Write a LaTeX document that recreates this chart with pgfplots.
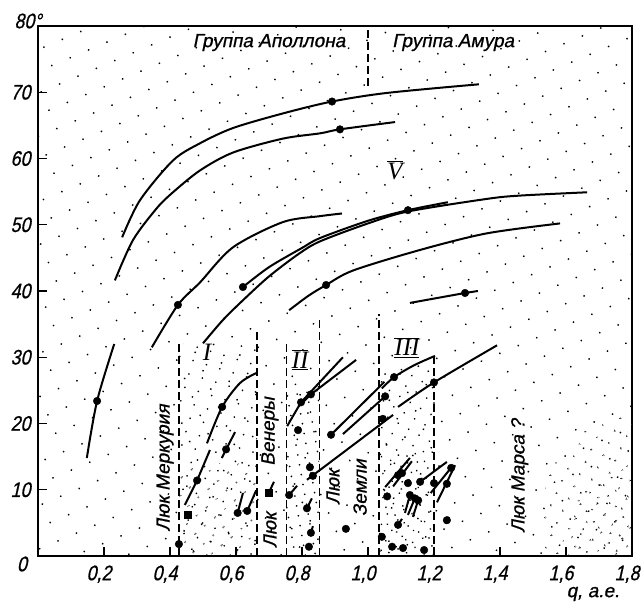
\documentclass[border=0pt]{standalone}
\usepackage{fontspec}
\setmainfont{Liberation Sans}[FakeSlant=0.2, FakeBold=0.8]
\newfontfamily\tickf{Liberation Sans}[FakeSlant=0.22, FakeStretch=0.85, FakeBold=0.8]
\newfontfamily\rmn{Liberation Serif}
\usepackage{pgfplots}
\pgfplotsset{compat=1.18}
\usetikzlibrary{patterns.meta}
\newcommand\bigf{\fontsize{19}{19}\selectfont}
\newcommand\tickfs{\tickf\fontsize{21}{21}\selectfont}
\newcommand\romf{\rmn\itshape\fontsize{25}{25}\selectfont}
\begin{document}
\begin{tikzpicture}
\begin{axis}[
  scale only axis, width=594pt, height=530pt,
  xmin=0, xmax=1.8, ymin=0, ymax=80,
  axis line style={line width=1.4pt},
  xtick={0.2,0.4,0.6,0.8,1.0,1.2,1.4,1.6,1.8},
  xticklabels={{0,2},{0,4},{0,6},{0,8},{1,0},{1,2},{1,4},{1,6},{1,8}},
  ytick={10,20,30,40,50,60,70},
  yticklabels={10,20,30,40,50,60,70},
  tick align=inside, xtick pos=left, ytick pos=left,
  major tick length=9pt, tick style={line width=1.2pt, black},
  ticklabel style={font=\tickfs},
  xticklabel style={yshift=-6pt, xshift=-5pt},
  yticklabel style={xshift=-4pt},
  clip=false,
  nodes={font=\bigf},
]
% stippling
\addplot[draw=none, pattern={Dots[distance=20pt, radius=1pt, angle=23]}] coordinates {(0,0)(0,80)(1.8,80)(1.8,0)} \closedcycle;
\addplot[draw=none, pattern={Dots[distance=14pt, radius=0.95pt, angle=-17]}] coordinates {(0.427,0)(0.427,32)(0.664,32)(0.664,0)} \closedcycle;
\addplot[draw=none, pattern={Dots[distance=13pt, radius=0.95pt, angle=40, xshift=4pt]}] coordinates {(0.427,0)(0.427,14)(0.664,14)(0.664,0)} \closedcycle;
\addplot[draw=none, pattern={Dots[distance=10pt, radius=0.95pt, angle=10]}] coordinates {(0.752,0)(0.752,26)(0.852,26)(0.852,0)} \closedcycle;
\addplot[draw=none, pattern={Dots[distance=12pt, radius=0.95pt, angle=-30]}] coordinates {(1.033,0)(1.033,28)(1.2,29)(1.2,0)} \closedcycle;
\addplot[draw=none, pattern={Dots[distance=12pt, radius=0.95pt, angle=50, xshift=3pt]}] coordinates {(1.033,0)(1.033,16)(1.2,16)(1.2,0)} \closedcycle;
\addplot[draw=none, pattern={Dots[distance=13pt, radius=0.95pt, angle=-25]}] coordinates {(1.52,0)(1.54,12)(1.62,18)(1.8,22)(1.8,0)} \closedcycle;
\addplot[draw=none, pattern={Dots[distance=13pt, radius=0.95pt, angle=35, yshift=5pt]}] coordinates {(1.6,0)(1.62,9)(1.8,14)(1.8,0)} \closedcycle;

% dashed boundaries
\pgfplotsset{dsh/.style={line width=1.3pt, dash pattern=on 8pt off 4pt}}
\addplot[dsh] coordinates {(0.427,0)(0.427,32.3)};
\addplot[dsh] coordinates {(0.664,0)(0.664,34.4)};
\addplot[dsh] coordinates {(0.752,0)(0.752,32.3)};
\addplot[dsh] coordinates {(0.852,0)(0.852,35.6)};
\addplot[dsh] coordinates {(1.033,0)(1.033,36.6)};
\addplot[dsh] coordinates {(1.2,0)(1.2,30)};
\addplot[dsh] coordinates {(1.0,71)(1.0,80)};

% curves
\pgfplotsset{crv/.style={line width=2pt, smooth}, seg/.style={line width=2pt}}
\addplot[crv] coordinates {(0.255,48.1)(0.309,53.7)(0.409,59.7)(0.491,62.3)(0.591,64.6)(0.742,66.8)(0.891,68.6)(1.058,69.9)(1.336,71.2)};
\addplot[crv] coordinates {(0.233,41.6)(0.288,47.7)(0.36,52.5)(0.409,54.9)(0.491,58.2)(0.591,60.9)(0.742,63.0)(0.855,63.8)(0.915,64.4)(1.082,65.5)};
\addplot[crv] coordinates {(0.345,31.5)(0.424,37.9)(0.491,41.3)(0.591,46.6)(0.742,50.4)(0.855,51.3)(0.921,51.7)};
\addplot[crv] coordinates {(0.621,40.6)(0.70,43.6)(0.80,46.5)(0.855,48.0)(1.0,50.6)(1.121,52.2)(1.242,53.4)};
\addplot[crv] coordinates {(0.50,32.1)(0.56,35.6)(0.621,38.6)(0.70,42.2)(0.79,45.6)(0.855,47.5)(1.0,50.2)(1.121,52.0)(1.36,53.9)(1.46,54.4)(1.664,54.9)};
\addplot[crv] coordinates {(0.761,37.1)(0.82,39.3)(0.873,40.9)(0.955,43.1)(1.158,46.2)(1.36,48.7)(1.582,50.2)};
\addplot[seg] coordinates {(1.127,38.2)(1.294,39.7)(1.333,40.0)};
\addplot[crv] coordinates {(0.148,14.8)(0.179,23.4)(0.231,32.0)};
\addplot[crv] coordinates {(0.512,17.0)(0.558,22.5)(0.612,26.1)(0.661,27.6)};
\addplot[seg] coordinates {(0.445,7.7)(0.482,11.4)(0.521,16.0)};
\addplot[seg] coordinates {(0.557,14.8)(0.597,18.7)};
\addplot[seg] coordinates {(0.605,6.5)(0.621,9.5)};
\addplot[seg] coordinates {(0.634,6.8)(0.661,9.9)};
\addplot[seg] coordinates {(0.699,9.5)(0.715,11.2)};
% region II
\addplot[seg] coordinates {(0.755,19.6)(0.797,23.2)(0.924,30.0)};
\addplot[seg] coordinates {(0.79,22.6)(0.827,24.4)(0.964,29.6)};
\addplot[seg] coordinates {(0.761,9.2)(0.785,10.6)};
\addplot[seg] coordinates {(0.815,7.2)(0.83,8.7)};
\addplot[seg] coordinates {(0.827,3.5)(0.833,4.5)};
\addplot[seg] coordinates {(0.815,11.5)(1.076,21.3)};
\addplot[seg] coordinates {(0.888,18.3)(1.05,26.3)};
\addplot[seg] coordinates {(0.924,18.4)(1.052,24.1)};
% region III
\addplot[crv] coordinates {(1.042,25.3)(1.079,27.0)(1.14,28.8)(1.203,30.2)};
\addplot[crv] coordinates {(1.091,22.5)(1.2,26.2)(1.391,31.8)};
\addplot[seg] coordinates {(1.052,10.4)(1.127,14.8)};
\addplot[seg] coordinates {(1.076,10.5)(1.133,14.3)};
\addplot[seg] coordinates {(1.158,11.2)(1.239,14.2)};
\addplot[seg] coordinates {(1.19,9.5)(1.258,13.7)};
\addplot[seg] coordinates {(1.209,8.1)(1.264,13.7)};
\addplot[seg] coordinates {(1.112,6.5)(1.127,9.2)};
\addplot[seg] coordinates {(1.121,6.2)(1.142,8.7)};
\addplot[seg] coordinates {(1.136,5.9)(1.152,8.4)};
\addplot[seg] coordinates {(1.091,4.7)(1.103,5.6)};
\addplot[seg] coordinates {(1.235,4.9)(1.245,5.9)};

% dots
\addplot[only marks, mark=*, mark size=3.8pt, black] coordinates {
 (0.891,68.6)(0.915,64.4)(0.424,37.9)(0.621,40.6)(1.121,52.2)(0.873,40.9)(1.294,39.7)
 (0.179,23.4)(0.558,22.5)(0.482,11.4)(0.57,16.1)(0.605,6.5)(0.634,6.8)(0.427,1.8)
 (0.797,23.2)(0.827,24.4)(0.788,19.0)(0.761,9.2)(0.815,7.2)(0.827,3.5)(0.821,1.4)
 (0.824,13.4)(0.833,12.1)(0.888,18.3)(0.933,4.1)
 (1.079,27.0)(1.052,24.1)(1.045,20.7)(1.2,26.2)
 (1.091,12.2)(1.103,12.5)(1.121,11.0)(1.158,11.2)(1.2,11.0)(1.239,10.9)(1.252,13.3)
 (1.058,9.0)(1.127,9.2)(1.142,8.7)(1.152,8.4)(1.091,4.7)(1.042,2.9)
 (1.073,1.4)(1.106,1.2)(1.17,0.9)(1.239,5.4)
};
\addplot[only marks, mark=square*, mark size=3.5pt, black] coordinates {(0.455,6.2)(0.699,9.5)};

% texts
\node at (axis cs:0.70,77.5) {Группа Аполлона};
\node at (axis cs:1.258,77.5) {Группа Амура};
\node[rotate=90] at (axis cs:0.385,13.3) {Люк Меркурия};
\node[rotate=90] at (axis cs:0.703,3.9) {Люк};
\node[rotate=90] at (axis cs:0.703,18.8) {Венеры};
\node[rotate=90] at (axis cs:0.894,10.4) {Люк};
\node[rotate=90] at (axis cs:0.976,10.3) {Земли};
\node[rotate=90] at (axis cs:1.46,12.1) {Люк Марса ?};
\node at (axis cs:0.512,30.8) {\romf I};
\node at (axis cs:0.794,29.6) {\romf$\overline{\underline{\hbox{II}}}$};
\node at (axis cs:1.118,31.5) {\romf$\overline{\underline{\hbox{III}}}$};
\node at (axis cs:1.082,58.2) {\romf$\overline{\hbox{V}}$};
\node at (axis cs:0,0) [xshift=-16pt, yshift=-8pt] {\tickfs 0};
\node[anchor=east] at (axis cs:0,80) [xshift=7pt, yshift=5pt] {\tickfs 80°};
\node at (axis cs:1.682,0) [yshift=-38pt] {q, а.е.};
\end{axis}
\pgfresetboundingbox
\path ([shift={(-38pt,-53pt)}]current axis.south west) rectangle ([shift={(12pt,26pt)}]current axis.north east);
\end{tikzpicture}
\end{document}
